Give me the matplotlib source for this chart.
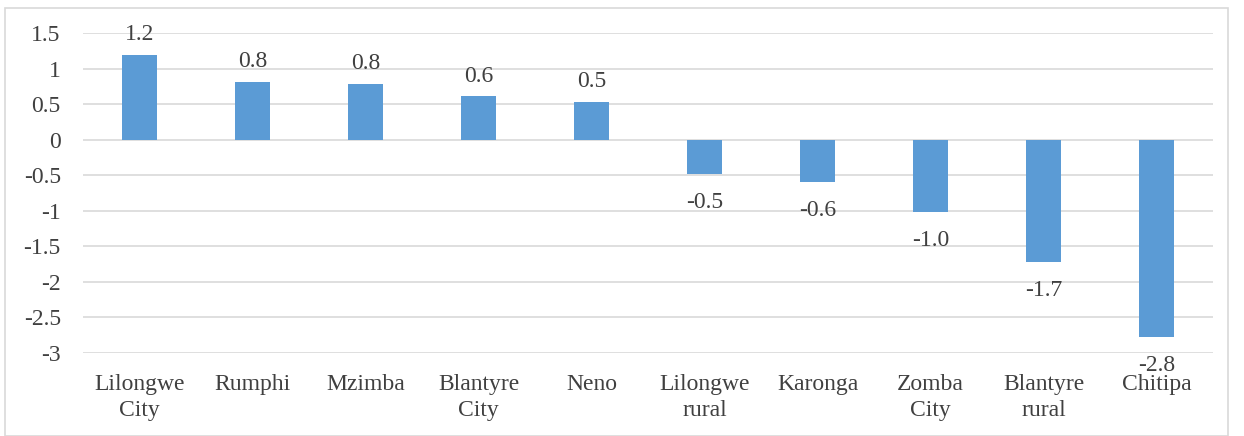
import matplotlib
matplotlib.use("Agg")
import matplotlib.pyplot as plt
from matplotlib.patches import Rectangle

categories = ["Lilongwe\nCity", "Rumphi", "Mzimba", "Blantyre\nCity", "Neno",
              "Lilongwe\nrural", "Karonga", "Zomba\nCity", "Blantyre\nrural", "Chitipa"]
values = [1.19, 0.81, 0.78, 0.61, 0.53, -0.48, -0.59, -1.02, -1.72, -2.78]
yticks = [1.5, 1, 0.5, 0, -0.5, -1, -1.5, -2, -2.5, -3]
ytick_labels = ["1.5", "1", "0.5", "0", "-0.5", "-1", "-1.5", "-2", "-2.5", "-3"]

FAM = ['Liberation Serif', 'DejaVu Serif']
plt.rcParams['font.family'] = FAM
FS = 17
COL = "#404040"

fig = plt.figure(figsize=(12.44, 4.36), dpi=100)
ax = fig.add_axes([83/1244, 1 - 353/436, (1213-83)/1244, (353-33)/436])

x = list(range(len(categories)))
ax.bar(x, values, width=0.31, color="#5b9bd5", zorder=3)
ax.set_xlim(-0.5, len(categories) - 0.5)
ax.set_ylim(-3, 1.5)
ax.set_yticks(yticks)
ax.set_yticklabels(ytick_labels, family=FAM, fontsize=FS, color=COL)
ax.set_xticks(x)
ax.set_xticklabels(categories, family=FAM, fontsize=FS, color=COL, linespacing=1.3)
ax.tick_params(axis='both', length=0)
ax.tick_params(axis='x', pad=15)
ax.tick_params(axis='y', pad=16)
ax.grid(axis='y', color="#d9d9d9", linewidth=1.2, zorder=0)
for s in ax.spines.values():
    s.set_visible(False)

for xi, v in zip(x, values):
    if v >= 0:
        ax.annotate(f"{v:.1f}", (xi, v), xytext=(0, 7), textcoords="offset points",
                    ha="center", va="bottom", fontsize=FS, color=COL, family=FAM)
    else:
        ax.annotate(f"{v:.1f}", (xi, v), xytext=(0, -13), textcoords="offset points",
                    ha="center", va="top", fontsize=FS, color=COL, family=FAM)

fig.patches.append(Rectangle((5/1244, 0), (1228-5)/1244, 1 - 8/436, transform=fig.transFigure,
                             fill=False, edgecolor="#d9d9d9", linewidth=1.2))

fig.savefig("out.png", dpi=100)
